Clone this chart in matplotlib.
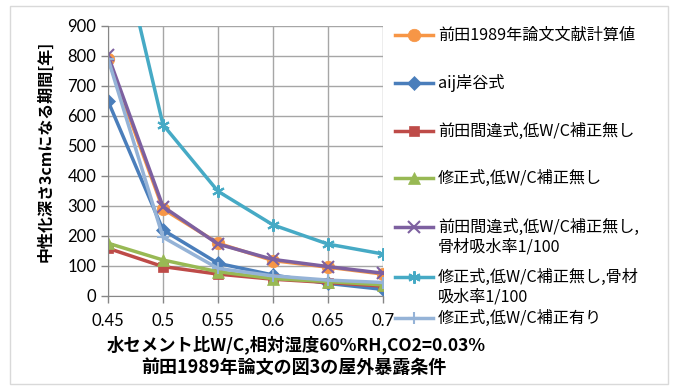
import matplotlib
matplotlib.use("Agg")
import matplotlib.pyplot as plt
from matplotlib.lines import Line2D
from matplotlib.patches import Rectangle

plt.rcParams['font.family'] = ['Noto Sans CJK JP', 'DejaVu Sans']

wc = [0.45, 0.5, 0.55, 0.6, 0.65, 0.7]
maeda_1989 = [790, 290, 176, 118, 96, 73]
aij_kishitani = [650, 220, 109, 70, 42, 22]
maeda_wrong = [159, 98, 73, 56, 45, 33]
corrected = [176, 120, 81, 58, 48, 37]
maeda_wrong_abs = [802, 298, 173, 122, 98, 76]
corrected_abs = [1350, 571, 349, 237, 173, 140]
corrected_lowwc = [791, 196, 92, 67, 53, 45]

labels = ["前田1989年論文文献計算値", "aij岸谷式", "前田間違式,低W/C補正無し",
          "修正式,低W/C補正無し", "前田間違式,低W/C補正無し,\n骨材吸水率1/100",
          "修正式,低W/C補正無し,骨材\n吸水率1/100", "修正式,低W/C補正有り"]
yticks = [0, 100, 200, 300, 400, 500, 600, 700, 800, 900]
xticks = [0.45, 0.5, 0.55, 0.6, 0.65, 0.7]
xtick_labels = ["0.45", "0.5", "0.55", "0.6", "0.65", "0.7"]
xlabel_lines = ["水セメント比W/C,相対湿度60%RH,CO2=0.03%", "前田1989年論文の図3の屋外暴露条件"]
ylabel = "中性化深さ3cmになる期間[年]"

series = [maeda_1989, aij_kishitani, maeda_wrong, corrected, maeda_wrong_abs, corrected_abs, corrected_lowwc]
colors = ["#F79646", "#4A7EBB", "#BE4B48", "#98B954", "#7D60A0", "#46AAC5", "#95B3D7"]
markers = ["o", "D", "s", "^", "x", (6, 2, 0), "+"]
msizes = [9, 7.5, 7.5, 8.5, 8.5, 9, 9]

W, H = 675, 386
fig = plt.figure(figsize=(W / 100, H / 100), dpi=100)

def fx(px):
    return px / W

def fy(py):
    return 1 - py / H

# chart border
fig.add_artist(Rectangle((fx(10), fy(384)), fx(668) - fx(10), fy(6) - fy(384),
                         transform=fig.transFigure, fill=False, edgecolor="#D9D9D9", lw=1))

ax = fig.add_axes([fx(108), fy(296), fx(383) - fx(108), fy(26) - fy(296)])
for s, c, m, ms in zip(series, colors, markers, msizes):
    mew = 1.5 if m in ("x", "+") or isinstance(m, tuple) else 0.5
    ax.plot(wc, s, color=c, lw=2.5, marker=m, markersize=ms, markeredgecolor=c,
            markeredgewidth=mew, clip_on=True)

ax.set_xlim(0.45, 0.7)
ax.set_ylim(0, 900)
ax.set_xticks(xticks)
ax.set_xticklabels(xtick_labels)
ax.set_yticks(yticks)
ax.grid(True, color="#A6A6A6", lw=1)
ax.set_axisbelow(True)
for sp in ax.spines.values():
    sp.set_visible(False)
ax.spines['left'].set_visible(True)
ax.spines['bottom'].set_visible(True)
ax.spines['left'].set_color("#868686")
ax.spines['bottom'].set_color("#868686")
ax.tick_params(axis='both', colors="#868686", labelcolor="black", labelsize=12, length=5, width=1)
ax.tick_params(axis='x', pad=7)
for t in ax.get_xticklabels() + ax.get_yticklabels():
    t.set_family(['Lato', 'DejaVu Sans'])

# axis titles
fig.text(fx(296), fy(345), xlabel_lines[0], fontsize=12.5, fontweight='bold', ha='center', va='center')
fig.text(fx(294), fy(367), xlabel_lines[1], fontsize=13, fontweight='bold', ha='center', va='center')
fig.text(fx(45), fy(151), ylabel, fontsize=11.5, fontweight='bold', ha='center', va='center',
         rotation=90)

# legend
leg_y = [35, 83, 131, 178, 227, 277, 318]
for lab, c, m, ms, y in zip(labels, colors, markers, msizes, leg_y):
    mew = 1.5 if m in ("x", "+") or isinstance(m, tuple) else 0.5
    fig.add_artist(Line2D([fx(395), fx(433)], [fy(y), fy(y)], transform=fig.transFigure,
                          color=c, lw=2.5))
    fig.add_artist(Line2D([fx(413.5)], [fy(y)], transform=fig.transFigure, color=c,
                          marker=m, markersize=ms, markeredgecolor=c, markeredgewidth=mew))
    lines = lab.split('\n')
    for i, line in enumerate(lines):
        fig.text(fx(438), fy(y + 20.5 * i), line, fontsize=11.6, va='center', ha='left')

fig.savefig("out.png", dpi=100)
